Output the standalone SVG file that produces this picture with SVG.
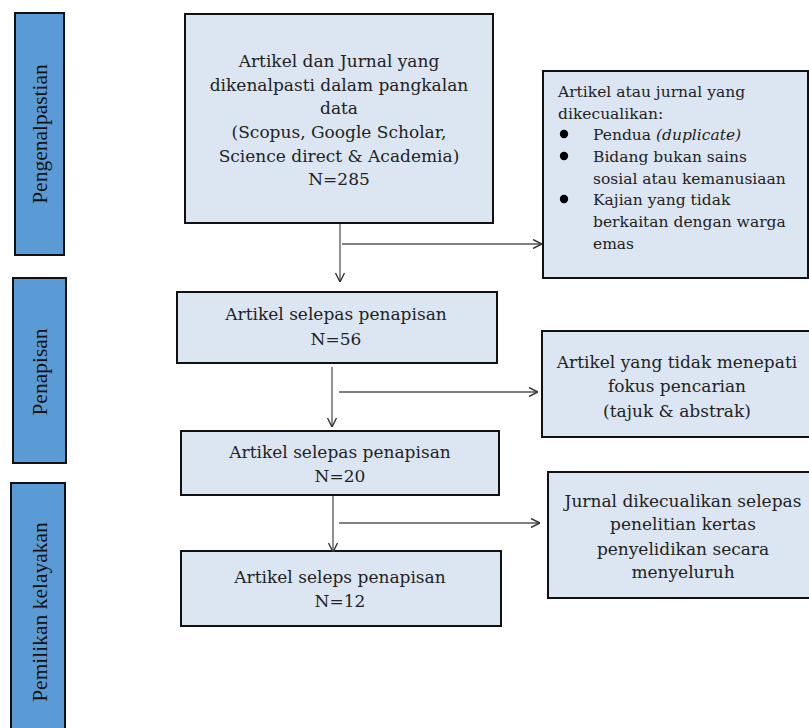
<svg xmlns="http://www.w3.org/2000/svg" width="809" height="728" viewBox="0 0 809 728">
<style>
.tab{fill:#5b9bd5;stroke:#111;stroke-width:2}
.box{fill:#dce6f2;stroke:#111;stroke-width:2}
.tt{font-family:"Liberation Serif",serif;font-size:21.5px;fill:#111;text-anchor:middle}
.t{font-family:"DejaVu Serif","Liberation Serif",serif;font-size:17px;fill:#222;text-anchor:middle}
.s{font-family:"DejaVu Serif","Liberation Serif",serif;font-size:15.5px;fill:#222}
.c{fill:none;stroke:#555;stroke-width:1.3}
</style>
<defs>
<marker id="ah" viewBox="0 0 10 10" refX="10" refY="5" markerWidth="10" markerHeight="10" markerUnits="userSpaceOnUse" orient="auto">
<path d="M1,0.5 L10,5 L1,9.5" fill="none" stroke="#333" stroke-width="1.4"/>
</marker>
</defs>
<rect x="0" y="0" width="809" height="728" fill="#fff"/>
<g id="tab-pengenalpastian">
<rect class="tab" x="15" y="13" width="49" height="242"/>
<text class="tt" transform="translate(47,134) rotate(-90)">Pengenalpastian</text>
</g>
<g id="tab-penapisan">
<rect class="tab" x="13" y="278" width="53" height="185"/>
<text class="tt" transform="translate(47,372) rotate(-90)">Penapisan</text>
</g>
<g id="tab-pemilikan">
<rect class="tab" x="11" y="483" width="54" height="250"/>
<text class="tt" transform="translate(47,612) rotate(-90)">Pemilikan kelayakan</text>
</g>
<g id="n-identified">
<rect class="box" x="185" y="14" width="308" height="209"/>
<text class="t" x="339" y="67">Artikel dan Jurnal yang</text>
<text class="t" x="339" y="91">dikenalpasti dalam pangkalan</text>
<text class="t" x="339" y="114">data</text>
<text class="t" x="339" y="138">(Scopus, Google Scholar,</text>
<text class="t" x="339" y="162">Science direct &amp; Academia)</text>
<text class="t" x="339" y="185">N=285</text>
</g>
<g id="n-excluded1">
<rect class="box" x="543" y="71" width="265" height="207"/>
<text class="s" x="558" y="97">Artikel atau jurnal yang</text>
<text class="s" x="558" y="118.5">dikecualikan:</text>
<circle cx="564" cy="134" r="4.2" fill="#000"/>
<text class="s" x="593" y="140">Pendua <tspan font-style="italic">(duplicate)</tspan></text>
<circle cx="564" cy="156" r="4.2" fill="#000"/>
<text class="s" x="593" y="162">Bidang bukan sains</text>
<text class="s" x="593" y="183.5">sosial atau kemanusiaan</text>
<circle cx="564" cy="199" r="4.2" fill="#000"/>
<text class="s" x="593" y="205">Kajian yang tidak</text>
<text class="s" x="593" y="227">berkaitan dengan warga</text>
<text class="s" x="593" y="248.5">emas</text>
</g>
<g id="n-screen56">
<rect class="box" x="177" y="292" width="320" height="71"/>
<text class="t" x="336" y="320">Artikel selepas penapisan</text>
<text class="t" x="336" y="345">N=56</text>
</g>
<g id="n-excluded2">
<rect class="box" x="542" y="331" width="270" height="106"/>
<text class="t" x="677" y="368">Artikel yang tidak menepati</text>
<text class="t" x="677" y="392">fokus pencarian</text>
<text class="t" x="677" y="417">(tajuk &amp; abstrak)</text>
</g>
<g id="n-screen20">
<rect class="box" x="181" y="431" width="318" height="64"/>
<text class="t" x="340" y="458">Artikel selepas penapisan</text>
<text class="t" x="340" y="482">N=20</text>
</g>
<g id="n-excluded3">
<rect class="box" x="548" y="472" width="265" height="126"/>
<text class="t" x="683" y="507">Jurnal dikecualikan selepas</text>
<text class="t" x="683" y="530">penelitian kertas</text>
<text class="t" x="683" y="555">penyelidikan secara</text>
<text class="t" x="683" y="578">menyeluruh</text>
</g>
<g id="n-final12">
<rect class="box" x="181" y="551" width="320" height="75"/>
<text class="t" x="340" y="583">Artikel seleps penapisan</text>
<text class="t" x="340" y="607">N=12</text>
</g>
<g id="connectors">
<line class="c" x1="340" y1="224" x2="340" y2="282" marker-end="url(#ah)"/>
<line class="c" x1="342" y1="244" x2="542" y2="244" marker-end="url(#ah)"/>
<line class="c" x1="332" y1="367" x2="332" y2="427" marker-end="url(#ah)"/>
<line class="c" x1="339" y1="392" x2="538" y2="392" marker-end="url(#ah)"/>
<line class="c" x1="333" y1="496" x2="333" y2="552" marker-end="url(#ah)"/>
<line class="c" x1="339" y1="523" x2="540" y2="523" marker-end="url(#ah)"/>
</g>
</svg>
